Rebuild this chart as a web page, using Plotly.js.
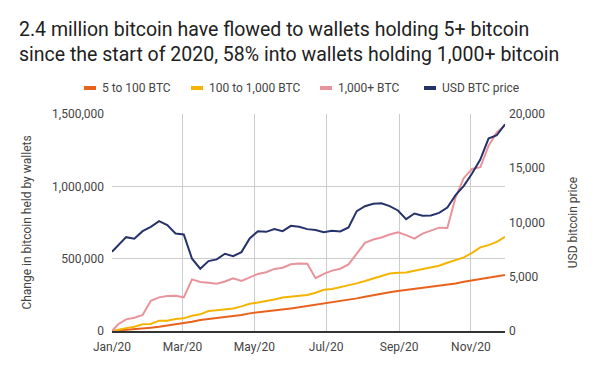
<!DOCTYPE html>
<html>
<head>
<meta charset="utf-8">
<script src="https://cdn.plot.ly/plotly-3.0.1.min.js"></script>
<style>html,body{margin:0;padding:0;background:#fff;}#chart{width:600px;height:371px;}</style>
</head>
<body>
<div id="chart"></div>
<script>
var dates = ['2020-01-01','2020-01-06','2020-01-13','2020-01-20','2020-01-27',
  '2020-02-03','2020-02-10','2020-02-17','2020-02-24',
  '2020-03-02','2020-03-09','2020-03-16','2020-03-23','2020-03-30',
  '2020-04-06','2020-04-13','2020-04-20','2020-04-27',
  '2020-05-04','2020-05-11','2020-05-18','2020-05-25',
  '2020-06-01','2020-06-08','2020-06-15','2020-06-22','2020-06-29',
  '2020-07-06','2020-07-13','2020-07-20','2020-07-27',
  '2020-08-03','2020-08-10','2020-08-17','2020-08-24','2020-08-31',
  '2020-09-07','2020-09-14','2020-09-21','2020-09-28',
  '2020-10-05','2020-10-12','2020-10-19','2020-10-26',
  '2020-11-02','2020-11-09','2020-11-16','2020-11-23','2020-11-30'];

var small = [0,3000,7000,11500,17000,
  23000,29000,36800,45000,
  52900,64000,75900,82000,87400,
  93000,98900,110000,121900,
  128000,133400,141000,149600,
  156000,163400,172000,180000,188000,
  195600,205000,215000,225500,
  237000,248000,260000,268000,276000,
  283000,291000,298000,306000,
  312000,317500,329000,340600,
  350000,359000,367000,375000,386600];

var mid = [0,10000,20000,29700,46000,
  48300,71300,71300,82800,
  87400,105800,115000,138000,143000,
  149600,155000,170000,188500,
  196500,205500,218000,231000,
  237000,243000,248500,264600,285300,
  289900,301500,312700,329000,
  345200,363700,381700,398000,402400,
  405000,416200,428000,437000,
  450800,471500,490100,508700,
  540500,577800,593700,616400,651000];

var big = [0,45000,80700,91800,110400,
  209200,232600,241600,243900,
  232600,356800,338200,333600,327000,
  342000,364000,346000,369000,
  394500,406000,429000,437000,
  461000,466000,465000,364800,394700,
  417600,430300,460000,536000,
  609500,632700,646500,667300,682000,
  662700,638500,673000,691500,
  714500,712000,924000,1058000,
  1120000,1132000,1280000,1372000,1422000];

var price = [7300,7900,8650,8500,9200,
  9600,10120,9760,8990,
  8900,6660,5740,6440,6600,
  7120,6900,7270,8530,
  9200,9140,9390,9200,
  9690,9600,9390,9300,9110,
  9230,9170,9550,11045,
  11505,11720,11780,11505,11110,
  10310,10830,10615,10645,
  10890,11380,12520,13375,
  14515,15800,17735,18040,19050];

var seriesNames = ['5 to 100 BTC','100 to 1,000 BTC','1,000+ BTC','USD BTC price'];
var seriesColors = ['#E8621E','#F4B400','#E8939B','#26336A'];
var titleText = '2.4 million bitcoin have flowed to wallets holding 5+ bitcoin<br>since the start of 2020, 58% into wallets holding 1,000+ bitcoin';
var leftTitle = 'Change in bitcoin held by wallets';
var rightTitle = 'USD bitcoin price';

var seriesData = [small, mid, big, price];
var traces = seriesData.map(function(vals, i){
  return {
    x: dates, y: vals, type: 'scatter', mode: 'lines',
    name: seriesNames[i],
    yaxis: i === 3 ? 'y2' : 'y',
    line: {color: seriesColors[i], width: 2},
    showlegend: false
  };
});

// custom compact legend (plot area spans px 112..505)
var plotL = 112, plotW = 393, plotT = 114, plotH = 217;
function px2x(p){ return (p - plotL) / plotW; }
var legendY = (plotT + plotH - 88) / plotH;
var legendStarts = [84, 191, 320, 424];
var shapes = [], annotations = [];
seriesNames.forEach(function(n, i){
  var s = legendStarts[i];
  shapes.push({type:'line', xref:'paper', yref:'paper',
    x0: px2x(s), x1: px2x(s + 12), y0: legendY, y1: legendY,
    line:{color: seriesColors[i], width: 4}});
  annotations.push({xref:'paper', yref:'paper', x: px2x(s + 16), y: legendY,
    xanchor:'left', yanchor:'middle', showarrow:false, text: n,
    font:{family:'Roboto, sans-serif', size:12, color:'#444444'}});
});

var layout = {
  width: 600, height: 371,
  margin: {l: plotL, r: 600 - plotL - plotW, t: plotT, b: 371 - plotT - plotH, pad: 0},
  paper_bgcolor: '#ffffff', plot_bgcolor: '#ffffff',
  font: {family: 'Roboto, sans-serif', size: 12, color: '#444444'},
  title: {text: titleText, x: 19/600, xref: 'container', xanchor: 'left',
    y: 1 - 36/371, yref: 'container', yanchor: 'top',
    font: {family: 'Roboto, sans-serif', size: 19.5, color: '#212121'}},
  xaxis: {type: 'date', range: ['2020-01-01','2020-11-30'],
    tick0: '2020-01-01', dtick: 'M2', tickformat: '%b/%y',
    showgrid: true, gridcolor: '#cccccc', gridwidth: 1,
    showline: true, linecolor: '#333333', linewidth: 1.5,
    ticks: '', ticklabelstandoff: 4, zeroline: false,
    tickfont: {size: 12, color: '#444444'}},
  yaxis: {range: [0, 1500000], dtick: 500000, tickformat: ',d',
    showgrid: true, gridcolor: '#cccccc', gridwidth: 1, zeroline: false,
    showline: false, ticks: '', ticklabelstandoff: 7,
    tickfont: {size: 12, color: '#444444'},
    title: {text: leftTitle, standoff: 17, font: {size: 12, color: '#444444'}}},
  yaxis2: {range: [0, 20000], dtick: 5000, tickformat: ',d', overlaying: 'y', side: 'right',
    showgrid: false, zeroline: false, showline: false, ticks: '', ticklabelstandoff: 3,
    tickfont: {size: 12, color: '#444444'},
    title: {text: rightTitle, standoff: 24, font: {size: 12, color: '#444444'}}},
  shapes: shapes,
  annotations: annotations,
  showlegend: false
};

Plotly.newPlot('chart', traces, layout, {displayModeBar: false, staticPlot: true});
</script>
</body>
</html>
